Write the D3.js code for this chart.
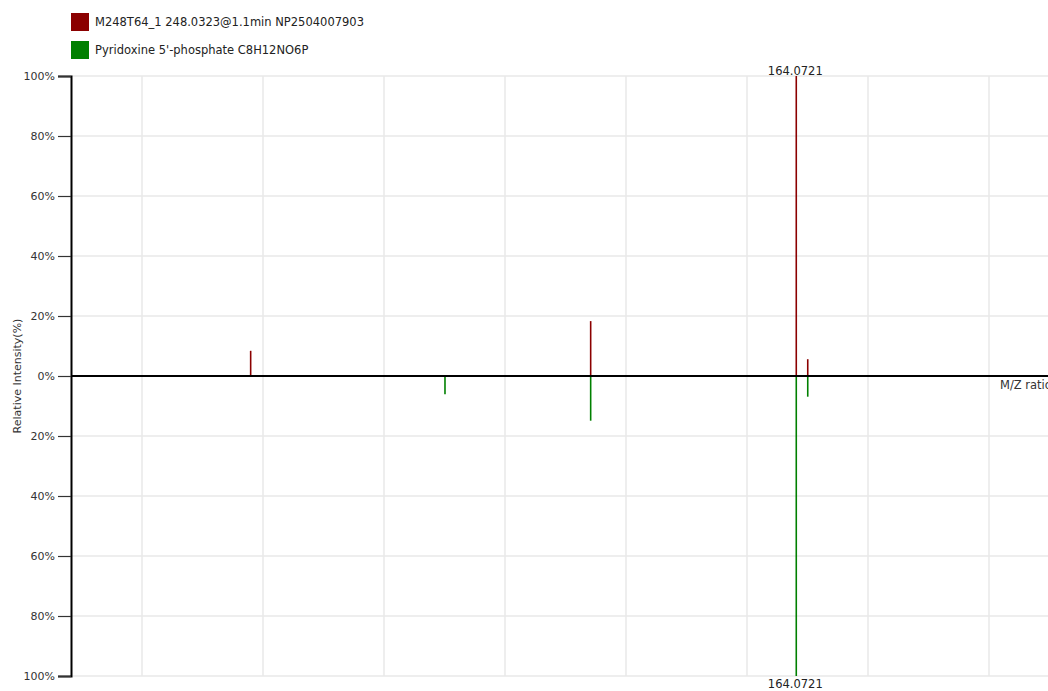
<!DOCTYPE html>
<html>
<head>
<meta charset="utf-8">
<script src="https://cdn.jsdelivr.net/npm/d3@7"></script>
<style>
  html, body { margin: 0; padding: 0; background: #fff; overflow: hidden; }
  svg { display: block; font-family: "DejaVu Sans", sans-serif; }
</style>
</head>
<body>
<svg id="chart" width="1048" height="691"></svg>
<script>
// Mirror spectrum: measured peaks (top) against library peaks (bottom)
const seriesNames = ["M248T64_1 248.0323@1.1min NP2504007903", "Pyridoxine 5'-phosphate C8H12NO6P"];
const seriesColors = ["#8b0000", "#008000"];

const queryMz = [118.98, 147.08, 164.0721, 165.02];
const queryIntensity = [8.4, 18.3, 100, 5.6];

const libraryMz = [135.04, 147.08, 164.0721, 165.02];
const libraryIntensity = [6.1, 14.9, 100, 6.9];

const mzGridTicks = [110, 120, 130, 140, 150, 160, 170, 180];
const intensityTicks = [-100, -80, -60, -40, -20, 0, 20, 40, 60, 80, 100];
const labelledMz = 164.0721;

const svg = d3.select("#chart");
const W = 1048, H = 691;
const margin = { left: 71, top: 76, bottom: 15 };

const x = d3.scaleLinear().domain([104.132, 184.876]).range([margin.left, W]);
const y = d3.scaleLinear().domain([-100, 100]).range([H - margin.bottom, margin.top]);

// grid
const grid = svg.append("g");
grid.selectAll("line.v").data(mzGridTicks).join("line")
  .attr("x1", d => x(d)).attr("x2", d => x(d))
  .attr("y1", y(100)).attr("y2", y(-100))
  .attr("stroke", "#e3e3e3").attr("stroke-width", 1.2);
grid.selectAll("line.h").data(intensityTicks).join("line")
  .attr("x1", margin.left).attr("x2", W)
  .attr("y1", d => y(d)).attr("y2", d => y(d))
  .attr("stroke", "#e8e8e8").attr("stroke-width", 1.5);

// peaks
const peaks = svg.append("g");
peaks.selectAll("line.q").data(queryMz).join("line")
  .attr("x1", d => x(d)).attr("x2", d => x(d))
  .attr("y1", y(0)).attr("y2", (d, i) => y(queryIntensity[i]))
  .attr("stroke", seriesColors[0]).attr("stroke-width", 1.6);
peaks.selectAll("line.l").data(libraryMz).join("line")
  .attr("x1", d => x(d)).attr("x2", d => x(d))
  .attr("y1", y(0)).attr("y2", (d, i) => y(-libraryIntensity[i]))
  .attr("stroke", seriesColors[1]).attr("stroke-width", 1.6);

// peak labels
const qi = queryMz.indexOf(labelledMz);
const li = libraryMz.indexOf(labelledMz);
svg.append("text").attr("x", x(labelledMz) - 1).attr("y", y(queryIntensity[qi]) - 1)
  .attr("text-anchor", "middle").attr("font-size", 11.5).attr("fill", "#222")
  .text(labelledMz.toFixed(4));
svg.append("text").attr("x", x(labelledMz) - 1).attr("y", y(-libraryIntensity[li]) + 12)
  .attr("text-anchor", "middle").attr("font-size", 11.5).attr("fill", "#222")
  .text(labelledMz.toFixed(4));

// y axis
const yAxis = d3.axisLeft(y).tickValues(intensityTicks).tickSize(13).tickPadding(3)
  .tickFormat(d => Math.abs(d) + "%");
const ya = svg.append("g").attr("transform", `translate(${margin.left},0)`).call(yAxis);
ya.select(".domain").attr("stroke", "#000").attr("stroke-width", 2);
ya.selectAll(".tick line").attr("stroke", "#333").attr("stroke-width", 1.2);
ya.selectAll(".tick text").attr("font-size", 11).attr("fill", "#333")
  .attr("font-family", "DejaVu Sans, sans-serif");

// zero line
svg.append("line").attr("x1", margin.left).attr("x2", W)
  .attr("y1", y(0)).attr("y2", y(0))
  .attr("stroke", "#000").attr("stroke-width", 2);

svg.append("text").attr("x", 1000).attr("y", y(0) + 13)
  .attr("font-size", 11.5).attr("fill", "#333").text("M/Z ratio");

svg.append("text")
  .attr("transform", `translate(21,${y(0)}) rotate(-90)`)
  .attr("text-anchor", "middle").attr("font-size", 11).attr("fill", "#333")
  .text("Relative Intensity(%)");

// legend
const legend = svg.append("g").selectAll("g").data(seriesNames).join("g")
  .attr("transform", (d, i) => `translate(71,${13 + i * 28})`);
legend.append("rect").attr("width", 18).attr("height", 18)
  .attr("fill", (d, i) => seriesColors[i]);
legend.append("text").attr("x", 24).attr("y", 13)
  .attr("font-size", 11.5).attr("fill", "#222").text(d => d);
</script>
</body>
</html>
